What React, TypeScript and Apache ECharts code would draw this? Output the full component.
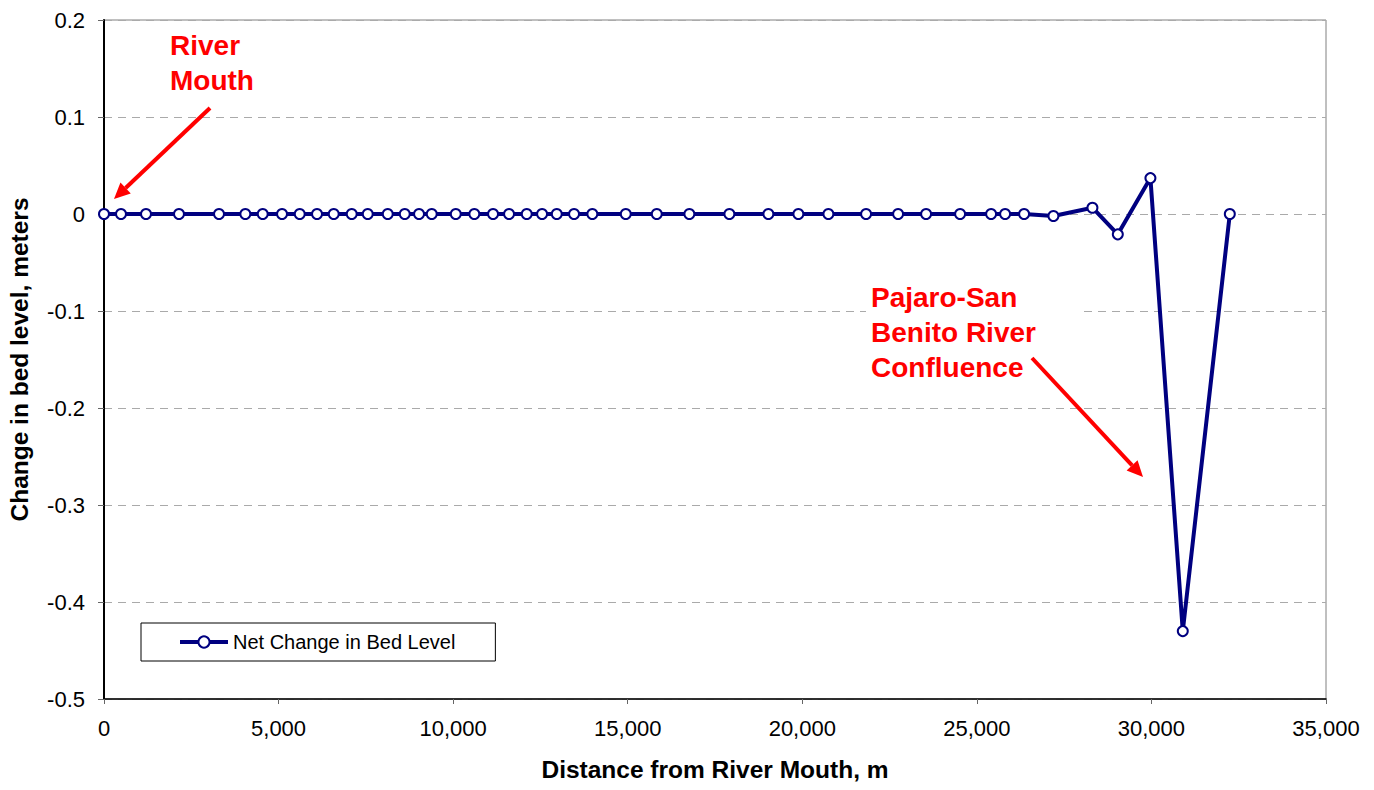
import React, { useEffect, useRef } from "react";
import * as echarts from "echarts";

const distances: number[] = [
  0, 487, 1203, 2148, 3294, 4048, 4546, 5099, 5606, 6101, 6580, 7095, 7554, 8127, 8614, 9023, 9387,
  10075, 10607, 11143, 11601, 12108, 12547, 12968, 13463, 13987, 14944, 15832, 16766, 17912, 19029,
  19888, 20748, 21827, 22744, 23546, 24520, 25408, 25809, 26353, 27193, 28310, 29037, 29971, 30898, 32245,
];
const bedChange: number[] = [
  0, 0, 0, 0, 0, 0, 0, 0, 0, 0, 0, 0, 0, 0, 0, 0, 0,
  0, 0, 0, 0, 0, 0, 0, 0, 0, 0, 0, 0, 0, 0,
  0, 0, 0, 0, 0, 0, 0, 0, 0, -0.002, 0.0065, -0.021, 0.037, -0.43, 0,
];
const seriesName = "Net Change in Bed Level";
const xTitle = "Distance from River Mouth, m";
const yTitle = "Change in bed level, meters";
const annotationMouth = "River\nMouth";
const annotationConfluence = "Pajaro-San\nBenito River\nConfluence";

const FONT = '"Liberation Sans", Arial, sans-serif';
const RED = "#ff0000";
const NAVY = "#000080";

function arrow(x1: number, y1: number, x2: number, y2: number) {
  const dx = x2 - x1;
  const dy = y2 - y1;
  const L = Math.hypot(dx, dy);
  const ux = dx / L;
  const uy = dy / L;
  const hl = 16;
  const hw = 7.5;
  const bx = x2 - ux * hl;
  const by = y2 - uy * hl;
  return [
    {
      type: "line",
      shape: { x1, y1, x2: bx, y2: by },
      style: { stroke: RED, lineWidth: 4 },
      z: 100,
    },
    {
      type: "polygon",
      shape: {
        points: [
          [x2, y2],
          [bx - uy * hw, by + ux * hw],
          [bx + uy * hw, by - ux * hw],
        ],
      },
      style: { fill: RED },
      z: 100,
    },
  ];
}

export default function App() {
  const ref = useRef<HTMLDivElement>(null);
  useEffect(() => {
    if (!ref.current) return;
    const chart = echarts.init(ref.current, null, { renderer: "svg" });
    const data = distances.map((d, i) => [d, bedChange[i]]);
    chart.setOption({
      animation: false,
      backgroundColor: "#ffffff",
      grid: {
        left: 104,
        right: 48,
        top: 20,
        bottom: 91,
        containLabel: false,
        outerBoundsMode: "none",
        show: true,
        borderColor: "#808080",
        borderWidth: 1,
        backgroundColor: "transparent",
      },
      legend: {
        left: 141,
        top: 623,
        padding: [9, 40, 9, 37],
        borderColor: "#000000",
        borderWidth: 1,
        backgroundColor: "#ffffff",
        itemWidth: 48,
        itemHeight: 14,
        lineStyle: { width: 4, color: NAVY },
        textStyle: { fontFamily: FONT, fontSize: 20, color: "#000" },
        data: [seriesName],
      },
      xAxis: {
        type: "value",
        min: 0,
        max: 35000,
        interval: 5000,
        name: xTitle,
        nameLocation: "middle",
        nameGap: 58,
        nameTextStyle: { fontFamily: FONT, fontSize: 24.5, fontWeight: "bold", color: "#000" },
        axisLine: { show: true, onZero: false, lineStyle: { color: "#000", width: 1.5 } },
        axisTick: { show: true, length: 5, lineStyle: { color: "#666" } },
        axisLabel: {
          fontFamily: FONT,
          fontSize: 22,
          color: "#000",
          margin: 18,
          formatter: (v: number) => v.toLocaleString("en-US"),
        },
        splitLine: { show: false },
      },
      yAxis: {
        type: "value",
        min: -0.5,
        max: 0.2,
        interval: 0.1,
        name: yTitle,
        nameLocation: "middle",
        nameGap: 72,
        nameTextStyle: { fontFamily: FONT, fontSize: 24.5, fontWeight: "bold", color: "#000" },
        axisLine: { show: true, onZero: false, lineStyle: { color: "#000", width: 2 } },
        axisTick: { show: true, length: 6, lineStyle: { color: "#666" } },
        axisLabel: {
          fontFamily: FONT,
          fontSize: 22,
          color: "#000",
          margin: 19,
          formatter: (v: number) => (Math.abs(v) < 1e-9 ? "0" : v.toFixed(1)),
        },
        splitLine: { show: true, lineStyle: { color: "#aaaaaa", type: [8, 6], width: 1 } },
      },
      series: [
        {
          name: seriesName,
          type: "line",
          data,
          symbol: "circle",
          symbolSize: 10,
          showAllSymbol: true,
          lineStyle: { color: NAVY, width: 4 },
          itemStyle: { color: "#ffffff", borderColor: NAVY, borderWidth: 2 },
          z: 5,
        },
      ],
      graphic: [
        {
          type: "rect",
          shape: { x: 866, y: 282, width: 212, height: 110 },
          style: { fill: "#ffffff" },
          z: 50,
        },
        {
          type: "text",
          x: 170,
          y: 28,
          style: {
            text: annotationMouth,
            font: `bold 28px ${FONT}`,
            fill: RED,
            lineHeight: 35,
            verticalAlign: "top",
          },
          z: 100,
        },
        {
          type: "text",
          x: 871,
          y: 280,
          style: {
            text: annotationConfluence,
            font: `bold 28px ${FONT}`,
            fill: RED,
            lineHeight: 35,
            verticalAlign: "top",
          },
          z: 100,
        },
        ...arrow(210, 108, 114, 199),
        ...arrow(1032, 358, 1143, 477),
      ],
    });
    return () => chart.dispose();
  }, []);
  return (
    <div
      ref={ref}
      style={{ position: "fixed", left: 0, top: 0, width: 1374, height: 790, background: "#fff" }}
    />
  );
}
